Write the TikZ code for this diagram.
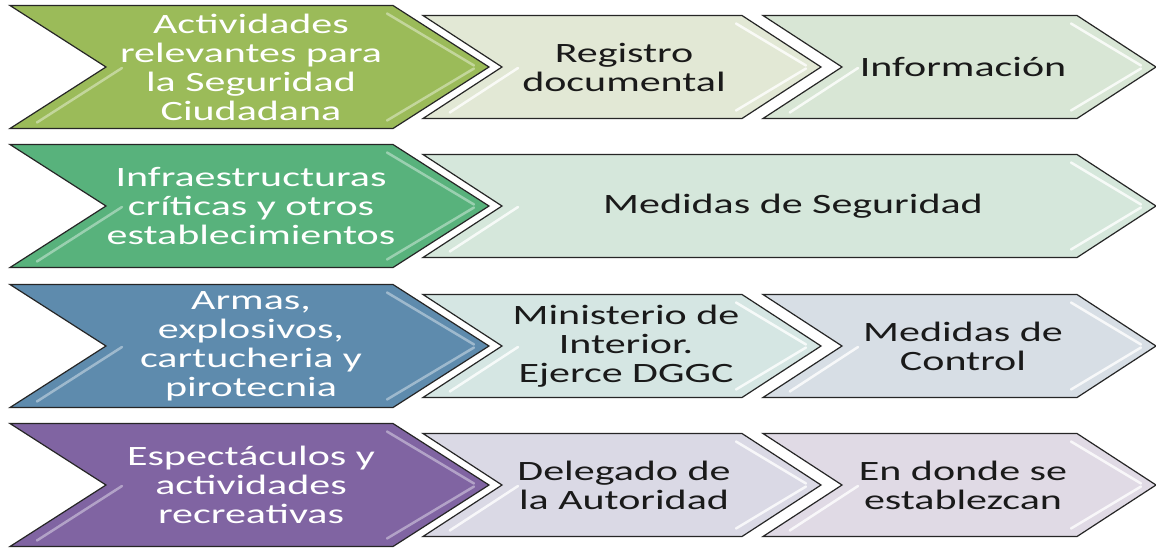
\documentclass[tikz,border=0pt]{standalone}
\usepackage{fontspec}
\setmainfont{Carlito}[FakeStretch=1.5]
\definecolor{bigA}{HTML}{9BBB59}
\definecolor{bigB}{HTML}{58B27C}
\definecolor{bigC}{HTML}{5E8BAD}
\definecolor{bigD}{HTML}{8064A2}
\definecolor{lA1}{HTML}{E2E8D5}
\definecolor{lA2}{HTML}{D8E6D5}
\definecolor{lB}{HTML}{D5E7DB}
\definecolor{lC1}{HTML}{D5E6E3}
\definecolor{lC2}{HTML}{D7DEE5}
\definecolor{lD1}{HTML}{DAD9E5}
\definecolor{lD2}{HTML}{E0DAE5}
\definecolor{txtdark}{HTML}{1A1A1A}
% #1 left, #2 corner, #3 depth, #4 centre y, #5 half height, #6 fill, #7 gloss style
\newcommand{\chevshape}[7]{%
  \draw[chevline, fill=#6] (#1,#4-#5) -- (#2,#4-#5) -- (#2+#3,#4) -- (#2,#4+#5)
     -- (#1,#4+#5) -- (#1+#3,#4) -- cycle;
  \draw[#7] (#2-6,#4-#5+8) -- (#2+#3-15,#4-1.5);
  \draw[#7] (#2+#3-15,#4+1.5) -- (#2-6,#4+#5-8);
  \draw[#7] (#1+#3+16,#4+1) -- ({#1+#3+16-#3*(#5-7)/#5},{#4+#5-6});
}
\begin{document}
\begin{tikzpicture}[x=1pt,y=-1pt,
  chevline/.style={draw=black!85, line width=1.2pt, line join=miter},
  bigtext/.style={text=white, align=center, font=\fontsize{28}{29}\selectfont},
  smalltext/.style={text=txtdark, align=center, font=\fontsize{28}{29}\selectfont},
  glossB/.style={white, line width=2.5pt, opacity=0.4, line cap=round},
  glossS/.style={white, line width=2.5pt, opacity=0.8, line cap=round}]
\useasboundingbox[fill=white] (0,0) rectangle (1156,547);

% Row 1
\chevshape{10}{393}{96}{67}{61.5}{bigA}{glossB}
\chevshape{423}{742}{79}{67}{51.5}{lA1}{glossS}
\chevshape{763}{1077}{79}{67}{51.5}{lA2}{glossS}
\node[bigtext] (r1a) at (251,67) {Actividades\\relevantes para\\la Seguridad\\Ciudadana};
\node[smalltext] (r1b) at (624,67) {Registro\\documental};
\node[smalltext] (r1c) at (963,67) {Información};

% Row 2
\chevshape{10}{393}{96}{206}{61.5}{bigB}{glossB}
\chevshape{423}{1077}{79}{206}{51.5}{lB}{glossS}
\node[bigtext] (r2a) at (251,206) {Infraestructuras\\críticas y otros\\establecimientos};
\node[smalltext] (r2b) at (793,206) {Medidas de Seguridad};

% Row 3
\chevshape{10}{393}{96}{346}{61.5}{bigC}{glossB}
\chevshape{423}{742}{79}{346}{51.5}{lC1}{glossS}
\chevshape{763}{1077}{79}{346}{51.5}{lC2}{glossS}
\node[bigtext] (r3a) at (251,346) {Armas,\\explosivos,\\cartucheria y\\pirotecnia};
\node[smalltext] (r3b) at (626,346) {Ministerio de\\Interior.\\Ejerce DGGC};
\node[smalltext] (r3c) at (963,346) {Medidas de\\Control};

% Row 4
\chevshape{10}{393}{96}{485}{61.5}{bigD}{glossB}
\chevshape{423}{742}{79}{485}{51.5}{lD1}{glossS}
\chevshape{763}{1077}{79}{485}{51.5}{lD2}{glossS}
\node[bigtext] (r4a) at (251,485) {Espectáculos y\\actividades\\recreativas};
\node[smalltext] (r4b) at (624,485) {Delegado de\\la Autoridad};
\node[smalltext] (r4c) at (963,485) {En donde se\\establezcan};
\end{tikzpicture}
\end{document}
